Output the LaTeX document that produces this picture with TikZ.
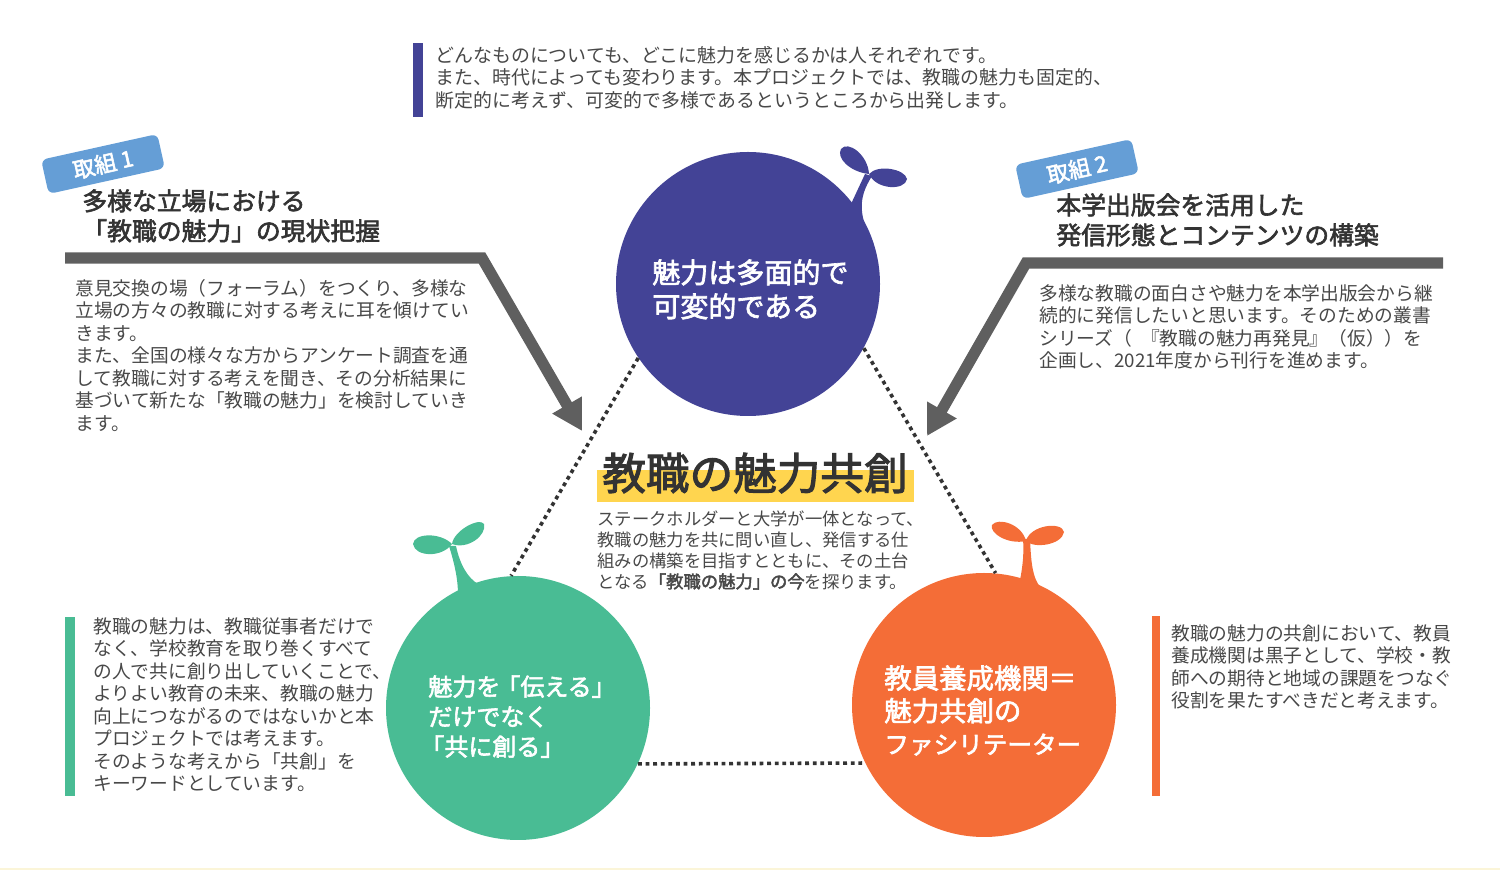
\documentclass[tikz,border=0pt]{standalone}
\usepackage{fontspec}
\setmainfont[BoldFont={Noto Sans CJK JP}, BoldFeatures={FakeBold=2.4}]{Noto Sans CJK JP}
\usetikzlibrary{arrows.meta}
\definecolor{navy}{HTML}{434396}
\definecolor{mint}{HTML}{49BC94}
\definecolor{carrot}{HTML}{F46D37}
\definecolor{tagblue}{HTML}{659ED6}
\definecolor{bargray}{HTML}{5F5F5F}
\definecolor{bodygray}{HTML}{484848}
\definecolor{darktext}{HTML}{333333}
\definecolor{marker}{HTML}{FFD54F}
\definecolor{strip}{HTML}{FBF5D8}
\tikzset{
    circ/.style={circle, minimum size=132pt, inner sep=0pt},
    bodytext/.style={anchor=north west, inner sep=0pt, align=left, text=bodygray, font=\fontsize{9.37}{11.25}\selectfont},
    headtext/.style={anchor=north west, inner sep=0pt, align=left, text=darktext, font=\fontsize{12.4}{15}\selectfont\bfseries},
    circtext/.style={anchor=north west, inner sep=0pt, align=left, text=white, font=\bfseries},
    tag/.style={fill=tagblue, rounded corners=3pt, minimum width=59.5pt, minimum height=17.5pt, inner sep=0pt, rotate=12.5, text=white, font=\fontsize{11}{12}\selectfont\bfseries},
    accent/.style={minimum width=5pt, inner sep=0pt, anchor=north west},
    bararrow/.style={draw=bargray, line width=5.6pt, miter limit=10, -{Triangle[length=15pt, width=16pt]}},
    dotline/.style={draw=darktext, line width=1.8pt, dash pattern=on 1.9pt off 1.9pt}
}
\begin{document}
\begin{tikzpicture}[x=0.5pt, y=-0.5pt]
\useasboundingbox (0,0) rectangle (1500,870);
\fill[strip] (0,868) rectangle (1500,870);

\fill[navy] (869,174) .. controls (850,172) and (836,158) .. (841,149) .. controls (848,140) and (868,155) .. (869,174) -- cycle;
\fill[navy] (869,174) .. controls (878,164) and (905,169) .. (907,179) .. controls (905,191) and (876,190) .. (869,174) -- cycle;
\fill[navy] (851,204) -- (865,174) -- (872,176) .. controls (862,192) and (858,206) .. (866,228) -- cycle;
\fill[mint] (452,544) .. controls (440,532) and (414,533) .. (413,544) .. controls (415,557) and (442,558) .. (452,544) -- cycle;
\fill[mint] (452,544) .. controls (454,530) and (480,517) .. (484,524) .. controls (487,535) and (468,550) .. (452,544) -- cycle;
\fill[mint] (449,546) -- (456,546) .. controls (460,565) and (468,578) .. (478,584) -- (458,595) .. controls (458,578) and (454,562) .. (449,546) -- cycle;
\fill[carrot] (1026,541) .. controls (1008,545) and (989,533) .. (992,525) .. controls (998,517) and (1022,524) .. (1026,541) -- cycle;
\fill[carrot] (1026,541) .. controls (1030,525) and (1062,521) .. (1064,532) .. controls (1062,545) and (1034,549) .. (1026,541) -- cycle;
\fill[carrot] (1023,539) -- (1030,539) .. controls (1031,560) and (1032,578) .. (1041,588) -- (1020,580) .. controls (1023,565) and (1024,552) .. (1023,539) -- cycle;

\node[circ, fill=navy] (navycirc) at (748,284) {};
\node[circ, fill=mint] (mintcirc) at (518,708) {};
\node[circ, fill=carrot] (carrotcirc) at (984,705) {};

\draw[dotline] (navycirc.214) -- (mintcirc.93);
\draw[dotline] (navycirc.-29) -- (carrotcirc.85);
\draw[dotline] (mintcirc.-25) -- (carrotcirc.206);

\node[accent, fill=navy, minimum height=37pt] (topbar) at (413,43) {};
\node[accent, fill=mint, minimum height=89.5pt] (mintbar) at (65,617) {};
\node[accent, fill=carrot, minimum width=4pt, minimum height=90pt] (carrotbar) at (1152,616) {};

\node[bodytext, font=\fontsize{9.46}{11.25}\selectfont] (toptext) at (435,46) {どんなものについても、どこに魅力を感じるかは人それぞれです。\\また、時代によっても変わります。本プロジェクトでは、教職の魅力も固定的、\\断定的に考えず、可変的で多様であるというところから出発します。};

\node[tag] (tagone) at (103,164) {取組 1};
\node[tag] (tagtwo) at (1077,169) {取組 2};
\node[headtext] (headone) at (82,189) {多様な立場における\\「教職の魅力」の現状把握};
\node[headtext] (headtwo) at (1056,193) {本学出版会を活用した\\発信形態とコンテンツの構築};

\coordinate (startone) at (65,258);
\coordinate (bendone) at (482,258);
\coordinate (tipone) at (582,431);
\coordinate (starttwo) at (1443,263);
\coordinate (bendtwo) at (1026,263);
\coordinate (tiptwo) at (927,436);
\draw[bararrow] (startone) -- (bendone) -- (tipone);
\draw[bararrow] (starttwo) -- (bendtwo) -- (tiptwo);

\node[bodytext] (textone) at (75,279) {意見交換の場（フォーラム）をつくり、多様な\\立場の方々の教職に対する考えに耳を傾けてい\\きます。\\また、全国の様々な方からアンケート調査を通\\して教職に対する考えを聞き、その分析結果に\\基づいて新たな「教職の魅力」を検討していき\\ます。};
\node[bodytext] (texttwo) at (1039,284) {多様な教職の面白さや魅力を本学出版会から継\\続的に発信したいと思います。そのための叢書\\シリーズ（\kern4.5pt『教職の魅力再発見』（仮））を\\企画し、2021年度から刊行を進めます。};

\node[circtext, font=\fontsize{14}{17}\selectfont\bfseries] (navytext) at (652,259) {魅力は多面的で\\可変的である};
\node[circtext, font=\fontsize{12}{15}\selectfont\bfseries] (minttext) at (428,675) {魅力を\kern-2pt「伝える」\\だけでなく\\\hspace*{-4pt}「共に創る」};
\node[circtext, font=\fontsize{13.7}{16.3}\selectfont\bfseries] (carrottext) at (884,665) {教員養成機関＝\\魅力共創の\\{\fontsize{12.3}{16.3}\selectfont ファシリテーター}};

\node[inner sep=0pt, minimum width=158.5pt, minimum height=16pt, fill=marker, anchor=north west] (markerbox) at (597,470) {};
\node[inner sep=0pt, text=darktext, font=\fontsize{21.8}{25}\selectfont\bfseries] (title) at (755,473) {教職の魅力共創};
\node[bodytext, font=\fontsize{8.66}{10.5}\selectfont] (centertext) at (597,510) {ステークホルダーと大学が一体となって、\\教職の魅力を共に問い直し、発信する仕\\組みの構築を目指すとともに、その土台\\となる{\bfseries 「教職の魅力」の今}を探ります。};

\node[bodytext] (minttextb) at (93,617) {教職の魅力は、教職従事者だけで\\なく、学校教育を取り巻くすべて\\の人で共に創り出していくことで、\\よりよい教育の未来、教職の魅力\\向上につながるのではないかと本\\プロジェクトでは考えます。\\そのような考えから「共創」を\\キーワードとしています。};
\node[bodytext] (carrottextb) at (1171,624) {教職の魅力の共創において、教員\\養成機関は黒子として、学校・教\\師への期待と地域の課題をつなぐ\\役割を果たすべきだと考えます。};
\end{tikzpicture}
\end{document}
